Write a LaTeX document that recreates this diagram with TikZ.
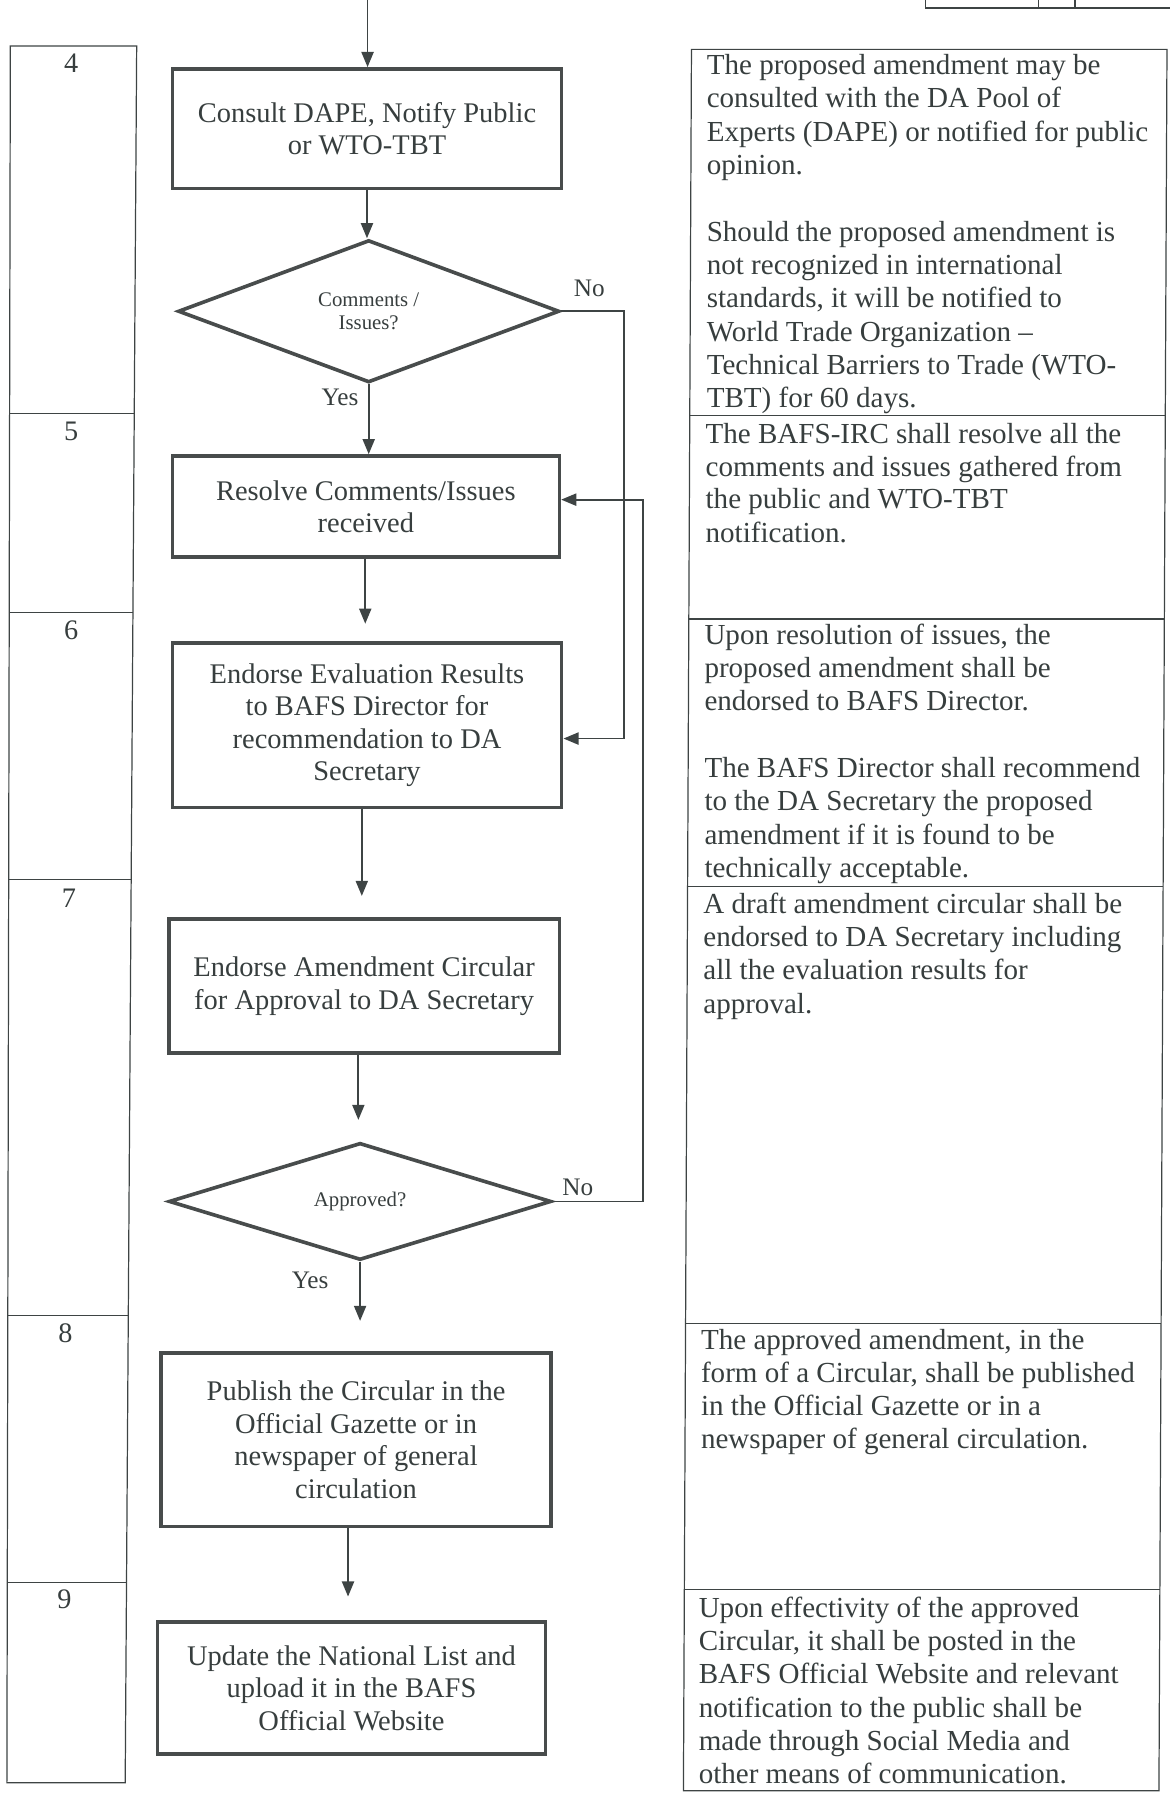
\documentclass[tikz,border=0pt]{standalone}
\usepackage{fontspec}
\setmainfont{Liberation Serif}
\usetikzlibrary{arrows.meta,shapes.geometric}
\definecolor{ink}{RGB}{62,68,68}
\definecolor{boxc}{RGB}{72,76,76}
\definecolor{txt}{RGB}{55,62,62}
\newcommand\bxfont{\fontsize{14.1}{16.1}\selectfont}
\newcommand\rtfont{\fontsize{14.4}{16.4}\selectfont}
\newcommand\dmfont{\fontsize{10.3}{11.4}\selectfont}
\newcommand\lbfont{\fontsize{12.5}{14}\selectfont}
\newcommand\nmfont{\fontsize{14}{16}\selectfont}
\begin{document}
\begin{tikzpicture}[x=0.02cm,y=-0.02cm,
  stepbox/.style={draw=boxc,line width=1.8pt,rectangle,inner sep=0pt,align=center,font=\bxfont,text=txt},
  decision/.style={diamond,draw=boxc,line width=1.8pt,inner sep=0pt,align=center,font=\dmfont,text=txt},
  arr/.style={draw=ink,line width=0.9pt,-{Triangle[length=7.5pt,width=6pt]}},
  tbl/.style={draw=ink,line width=0.6pt},
  rtext/.style={anchor=base west,inner sep=0pt,font=\rtfont,text=txt},
  lbl/.style={inner sep=0pt,font=\lbfont,text=txt},
  num/.style={inner sep=0pt,font=\nmfont,text=txt}]
\useasboundingbox (0,0) rectangle (1019,1568);

% partial table at the top right
\draw[tbl] (806,0) -- (806,7) -- (1019,7);
\draw[tbl] (904,0) -- (904,7);
\draw[tbl] (936,0) -- (936,7);

% left column (step numbers)
\draw[tbl] (9,40) -- (119,40) -- (109,1552) -- (6,1552) -- cycle;
\draw[tbl] (8.4,360) -- (116.9,360);
\draw[tbl] (8.0,533) -- (115.7,533);
\draw[tbl] (7.6,766) -- (114.2,766);
\draw[tbl] (6.8,1145) -- (111.7,1145);
\draw[tbl] (6.3,1378) -- (110.2,1378);
\node[num] (s4) at (62,55) {4};
\node[num] (s5) at (62,376) {5};
\node[num] (s6) at (62,549) {6};
\node[num] (s7) at (60,782) {7};
\node[num] (s8) at (57,1161) {8};
\node[num] (s9) at (56,1392) {9};

% right column (descriptions)
\draw[tbl] (602,43) -- (1016,43) -- (1009,1559) -- (595,1559) -- cycle;
\draw[tbl] (600.5,362) -- (1014.5,362);
\draw[tbl] (599.7,539) -- (1013.7,539);
\draw[tbl] (598.6,772) -- (1012.6,772);
\draw[tbl] (596.9,1152) -- (1010.9,1152);
\draw[tbl] (595.8,1384) -- (1009.8,1384);

\node[rtext] (t4a) at (615,65) {The proposed amendment may be};
\node[rtext] (t4b) at (615,94) {consulted with the DA Pool of};
\node[rtext] (t4c) at (615,123) {Experts (DAPE) or notified for public};
\node[rtext] (t4d) at (615,152) {opinion.};
\node[rtext] (t4e) at (615,210) {Should the proposed amendment is};
\node[rtext] (t4f) at (615,239) {not recognized in international};
\node[rtext] (t4g) at (615,268) {standards, it will be notified to};
\node[rtext] (t4h) at (615,297) {World Trade Organization –};
\node[rtext] (t4i) at (615,326) {Technical Barriers to Trade (WTO-};
\node[rtext] (t4j) at (615,355) {TBT) for 60 days.};

\node[rtext] (t5a) at (614,386) {The BAFS-IRC shall resolve all the};
\node[rtext] (t5b) at (614,415) {comments and issues gathered from};
\node[rtext] (t5c) at (614,443) {the public and WTO-TBT};
\node[rtext] (t5d) at (614,472) {notification.};

\node[rtext] (t6a) at (613,561) {Upon resolution of issues, the};
\node[rtext] (t6b) at (613,590) {proposed amendment shall be};
\node[rtext] (t6c) at (613,619) {endorsed to BAFS Director.};
\node[rtext] (t6d) at (613,677) {The BAFS Director shall recommend};
\node[rtext] (t6e) at (613,706) {to the DA Secretary the proposed};
\node[rtext] (t6f) at (613,735) {amendment if it is found to be};
\node[rtext] (t6g) at (613,764) {technically acceptable.};

\node[rtext] (t7a) at (612,795) {A draft amendment circular shall be};
\node[rtext] (t7b) at (612,824) {endorsed to DA Secretary including};
\node[rtext] (t7c) at (612,853) {all the evaluation results for};
\node[rtext] (t7d) at (612,882) {approval.};

\node[rtext] (t8a) at (610,1175) {The approved amendment, in the};
\node[rtext] (t8b) at (610,1204) {form of a Circular, shall be published};
\node[rtext] (t8c) at (610,1232) {in the Official Gazette or in a};
\node[rtext] (t8d) at (610,1261) {newspaper of general circulation.};

\node[rtext] (t9a) at (608,1408) {Upon effectivity of the approved};
\node[rtext] (t9b) at (608,1437) {Circular, it shall be posted in the};
\node[rtext] (t9c) at (608,1466) {BAFS Official Website and relevant};
\node[rtext] (t9d) at (608,1495) {notification to the public shall be};
\node[rtext] (t9e) at (608,1524) {made through Social Media and};
\node[rtext] (t9f) at (608,1553) {other means of communication.};

% flowchart
\node[stepbox,minimum width=6.78cm,minimum height=2.08cm] (A) at (319.5,112) {Consult DAPE, Notify Public\\or WTO-TBT};
\node[decision,minimum width=6.64cm,minimum height=2.48cm] (D1) at (321,271) {Comments /\\Issues?};
\node[stepbox,minimum width=6.74cm,minimum height=1.76cm] (B) at (318.5,441) {Resolve Comments/Issues\\received};
\node[stepbox,minimum width=6.78cm,minimum height=2.86cm] (C) at (319.5,631.5) {Endorse Evaluation Results\\to BAFS Director for\\recommendation to DA\\Secretary};
\node[stepbox,minimum width=6.80cm,minimum height=2.34cm] (D) at (317,858.5) {Endorse Amendment Circular\\for Approval to DA Secretary};
\node[decision,minimum width=6.66cm,minimum height=2.04cm] (D2) at (313.5,1046) {Approved?};
\node[stepbox,minimum width=6.80cm,minimum height=3.02cm] (E) at (310,1253.5) {Publish the Circular in the\\Official Gazette or in\\newspaper of general\\circulation};
\node[stepbox,minimum width=6.76cm,minimum height=2.30cm] (F) at (306,1469.5) {Update the National List and\\upload it in the BAFS\\Official Website};

\node[lbl] (no1) at (513,251) {No};
\node[lbl] (yes1) at (296,346) {Yes};
\node[lbl] (no2) at (503,1034) {No};
\node[lbl] (yes2) at (270,1115) {Yes};

\coordinate (topin) at (320,0);
\coordinate (bc) at (318,543);
\coordinate (cd) at (315,780);
\coordinate (dd) at (312,975);
\coordinate (de) at (313,1150);
\coordinate (ef) at (303,1390);
\coordinate (n1a) at (543,271);
\coordinate (n1b) at (543,643);
\coordinate (n2a) at (560,1046);
\coordinate (n2b) at (560,435);

\draw[arr] (topin) -- (topin |- A.north);
\draw[arr] (A.south) -- (A.south |- D1.north);
\draw[arr] (D1.south) -- (D1.south |- B.north);
\draw[arr] (bc |- B.south) -- (bc);
\draw[arr] (cd |- C.south) -- (cd);
\draw[arr] (dd |- D.south) -- (dd);
\draw[arr] (D2.south) -- (D2.south |- de);
\draw[arr] (ef |- E.south) -- (ef);
\draw[arr] (D1.east) -- (n1a) -- (n1b) -- (n1b -| C.east);
\draw[arr] (D2.east) -- (n2a) -- (n2b) -- (n2b -| B.east);
\end{tikzpicture}
\end{document}
